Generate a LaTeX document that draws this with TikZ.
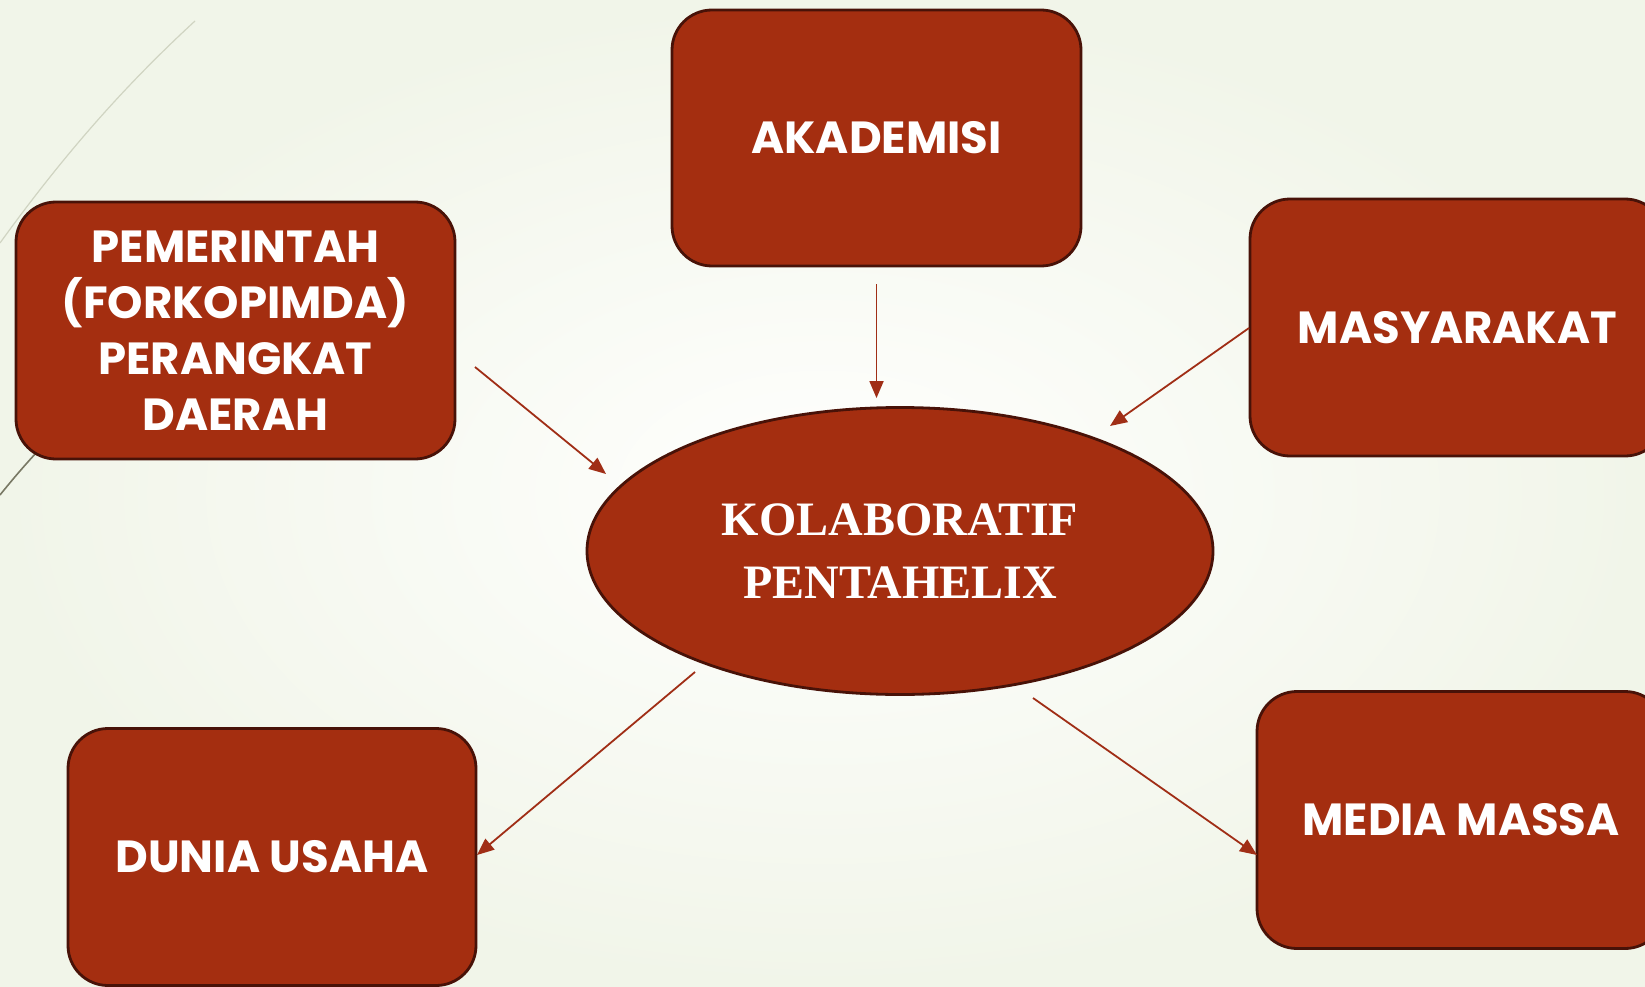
\documentclass[tikz,border=0pt]{standalone}
\usepackage{fontspec}
\setmainfont{Poppins}
\newfontfamily\titlefont{Liberation Serif}
\usetikzlibrary{arrows.meta,shapes.geometric}
\definecolor{boxfill}{RGB}{164,46,16}
\definecolor{boxline}{RGB}{72,18,8}
\definecolor{arrowcol}{RGB}{160,46,22}
\definecolor{bgedge}{RGB}{241,245,233}
\definecolor{bgcenter}{RGB}{255,255,254}
\tikzset{
  stakeholder/.style={draw=boxline, line width=2.8pt, fill=boxfill, rounded corners=40pt,
    text=white, font=\fontsize{45}{56}\selectfont\bfseries, align=center, inner sep=0pt},
  hub/.style={ellipse, draw=boxline, line width=2.8pt, fill=boxfill, text=white,
    font=\titlefont\fontsize{48}{63}\selectfont\bfseries, align=center, inner sep=0pt},
  link/.style={draw=arrowcol, line width=1.8pt, -{Triangle[length=17pt,width=14pt]}}
}
\begin{document}
\begin{tikzpicture}[x=1pt,y=-1pt]
\useasboundingbox (0,0) rectangle (1645,987);
\shade[inner color=bgcenter, outer color=bgedge] (0,0) rectangle (1645,987);
% decorative background curves
\draw[color={rgb,255:red,208;green,212;blue,194}, line width=1.2pt] (0,243) .. controls (60,160) and (120,90) .. (195,21);
\draw[color={rgb,255:red,120;green,120;blue,100}, line width=1.6pt] (0,495) .. controls (20,470) and (40,448) .. (60,428);
% nodes
\node[stakeholder, minimum width=409pt, minimum height=256pt] (akad) at (876.5,138) {AKADEMISI};
\node[stakeholder, minimum width=439pt, minimum height=257pt] (pem) at (235.5,330.5) {PEMERINTAH\\(FORKOPIMDA)\\PERANGKAT\\DAERAH};
\node[stakeholder, minimum width=415pt, minimum height=257pt] (masy) at (1457.5,327.5) {MASYARAKAT};
\node[stakeholder, minimum width=408pt, minimum height=257pt] (media) at (1461,820) {MEDIA MASSA};
\node[stakeholder, minimum width=408pt, minimum height=257pt] (dunia) at (272,857) {DUNIA USAHA};
\node[hub, minimum width=626pt, minimum height=287pt] (hubnode) at (900,551) {KOLABORATIF\\PENTAHELIX};
% arrow end points
\coordinate (pemA) at (475,367);
\coordinate (pemB) at (606,474);
\coordinate (masyA) at (1249,328);
\coordinate (masyB) at (1110,426);
\coordinate (duniaA) at (695,672);
\coordinate (duniaB) at (477,855);
\coordinate (mediaA) at (1033,698);
\coordinate (mediaB) at (1257,855);
% connectors
\draw[link, shorten <=17pt, shorten >=8pt] (akad.south) -- (akad.south |- hubnode.north);
\draw[link] (pemA) -- (pemB);
\draw[link] (masyA) -- (masyB);
\draw[link] (duniaA) -- (duniaB);
\draw[link] (mediaA) -- (mediaB);
\end{tikzpicture}
\end{document}
